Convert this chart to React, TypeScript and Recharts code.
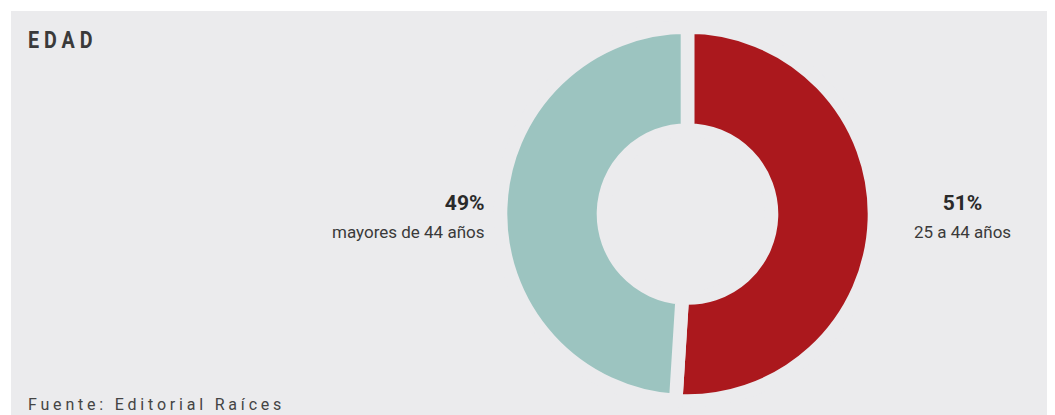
import { Cell, Pie, PieChart } from "recharts"

const BG = "#ebebed"
const FONT = "'Liberation Sans Narrow', Roboto, 'Liberation Sans', sans-serif"

const segments = ["25 a 44 años", "mayores de 44 años"]
const shares = [51, 49]
const colors = ["#ab181d", "#9cc4c0"]

const data = segments.map((name, i) => ({ name, value: shares[i] }))

// labels sit beside the ring, percent in bold above the category
function renderLabel(props: any) {
  const { cx, cy, midAngle, outerRadius, payload, value } = props
  const right = Math.cos((-midAngle * Math.PI) / 180) > 0
  const x = right ? cx + outerRadius + 88 : cx - outerRadius - 16
  const anchor = right ? "middle" : "end"
  return (
    <g>
      <text x={x} y={cy - 4} textAnchor={anchor} fill="#2a2a2a" fontSize={21} fontWeight={700} fontFamily={FONT}>
        {value}%
      </text>
      <text x={x} y={cy + 24} textAnchor={anchor} fill="#3a3a3a" fontSize={17} fontFamily={FONT}>
        {payload.name}
      </text>
    </g>
  )
}

export default function App() {
  return (
    <div style={{ position: "relative", width: 1047, height: 407, background: "#fff" }}>
      <div style={{ position: "absolute", left: 3, top: 3, width: 1044, height: 404, background: BG }}>
        <div
          style={{
            position: "absolute",
            left: 17,
            top: 17,
            fontFamily: FONT,
            fontWeight: 700,
            fontSize: 24,
            lineHeight: "24px",
            letterSpacing: 6,
            color: "#3a3a3a",
            transform: "scaleX(0.82)",
            transformOrigin: "left top",
          }}
        >
          EDAD
        </div>
        <PieChart width={1044} height={404}>
          <Pie
            data={data}
            dataKey="value"
            nameKey="name"
            cx={671.5}
            cy={198}
            startAngle={90}
            endAngle={-270}
            innerRadius={84}
            outerRadius={187}
            stroke={BG}
            strokeWidth={13.6}
            label={renderLabel}
            labelLine={false}
            isAnimationActive={false}
          >
            {data.map((d, i) => (
              <Cell key={d.name} fill={colors[i]} />
            ))}
          </Pie>
        </PieChart>
        <div
          style={{
            position: "absolute",
            left: 17,
            top: 386,
            fontFamily: FONT,
            fontSize: 16,
            lineHeight: "16px",
            letterSpacing: 3.8,
            color: "#444",
          }}
        >
          Fuente: Editorial Raíces
        </div>
      </div>
    </div>
  )
}
